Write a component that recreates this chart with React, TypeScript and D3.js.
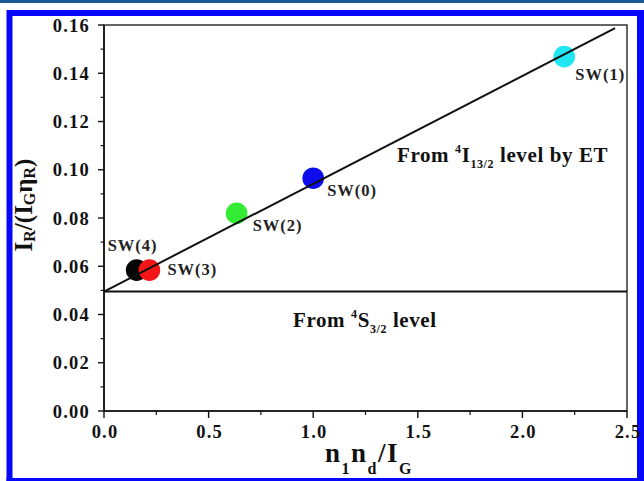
import React from "react";
import * as d3 from "d3";

const samples = ["SW(0)", "SW(1)", "SW(2)", "SW(3)", "SW(4)"];
const xValues = [1.0, 2.2, 0.634, 0.217, 0.156];
const yValues = [0.0965, 0.1469, 0.0819, 0.0584, 0.0584];
const pointColors = ["#0c0cec", "#22e6f2", "#33ec33", "#f21616", "#050505"];
// label offsets in px relative to point
const labelDx = [14, 11, 16, 18, -29];
const labelDy = [18, 23, 18, 5, -19];
const drawOrder = [4, 3, 2, 0, 1];

const fitIntercept = 0.0495;
const fitSlope = 0.0447;
const fitXEnd = 2.443;
const baseLevel = 0.0495;

const xTicks = [0, 0.5, 1.0, 1.5, 2.0, 2.5];
const xMinor = [0.25, 0.75, 1.25, 1.75, 2.25];
const yTicks = [0, 0.02, 0.04, 0.06, 0.08, 0.1, 0.12, 0.14, 0.16];
const yMinor = [0.01, 0.03, 0.05, 0.07, 0.09, 0.11, 0.13, 0.15];

const W = 644;
const H = 481;
const FONT = "'Liberation Serif', 'Times New Roman', serif";

export default function App() {
  const x = d3.scaleLinear().domain([0, 2.5]).range([104, 627]);
  const y = d3.scaleLinear().domain([0, 0.16]).range([411, 25]);
  const line = d3.line<[number, number]>().x((d) => x(d[0])).y((d) => y(d[1]));

  return (
    <svg
      width={W}
      height={H}
      style={{ position: "absolute", left: 0, top: 0 }}
      fontFamily={FONT}
      fontWeight="bold"
    >
      <rect x={0} y={0} width={W} height={H} fill="#fff" />
      <rect x={0} y={0} width={W} height={3} fill="#1c5b96" />
      <rect x={6.5} y={10} width={W - 6.5} height={H - 10} fill="#0606fa" />
      <rect x={12.5} y={16} width={637 - 12.5} height={478 - 16} fill="#fff" />

      {/* plot frame */}
      <rect
        x={x(0)}
        y={y(0.16)}
        width={x(2.5) - x(0)}
        height={y(0) - y(0.16)}
        fill="none"
        stroke="#333"
        strokeWidth={1.5}
      />
      <line x1={x(0)} x2={x(0)} y1={y(0)} y2={y(0.16)} stroke="#111" strokeWidth={1.6} />
      <line x1={x(0)} x2={x(2.5)} y1={y(0)} y2={y(0)} stroke="#111" strokeWidth={1.6} />

      {/* y ticks */}
      {yTicks.map((t) => (
        <g key={"yt" + t}>
          <line x1={x(0) - 6} x2={x(0)} y1={y(t)} y2={y(t)} stroke="#111" strokeWidth={1.4} />
          <text
            x={90}
            y={y(t)}
            dy="0.36em"
            textAnchor="end"
            fontSize={18.5}
            letterSpacing={1.2}
            fill="#111"
          >
            {t.toFixed(2)}
          </text>
        </g>
      ))}
      {yMinor.map((t) => (
        <line key={"ym" + t} x1={x(0) - 3.5} x2={x(0)} y1={y(t)} y2={y(t)} stroke="#111" strokeWidth={1.2} />
      ))}

      {/* x ticks */}
      {xTicks.map((t) => (
        <g key={"xt" + t}>
          <line x1={x(t)} x2={x(t)} y1={y(0)} y2={y(0) + 7} stroke="#111" strokeWidth={1.4} />
          <text
            x={x(t) + 1}
            y={438}
            textAnchor="middle"
            fontSize={18.5}
            letterSpacing={1.2}
            fill="#111"
          >
            {t.toFixed(1)}
          </text>
        </g>
      ))}
      {xMinor.map((t) => (
        <line key={"xm" + t} x1={x(t)} x2={x(t)} y1={y(0)} y2={y(0) + 4} stroke="#111" strokeWidth={1.2} />
      ))}

      {/* points */}
      {drawOrder.map((i) => (
        <circle key={"p" + i} cx={x(xValues[i])} cy={y(yValues[i])} r={10.8} fill={pointColors[i]} />
      ))}

      {/* lines */}
      <path
        d={line([[0, baseLevel], [2.5, baseLevel]]) || ""}
        fill="none"
        stroke="#111"
        strokeWidth={2}
      />
      <path
        d={line([[0, fitIntercept], [fitXEnd, fitIntercept + fitSlope * fitXEnd]]) || ""}
        fill="none"
        stroke="#111"
        strokeWidth={2}
      />

      {/* point labels */}
      {samples.map((s, i) => (
        <text
          key={"l" + i}
          x={x(xValues[i]) + labelDx[i]}
          y={y(yValues[i]) + labelDy[i]}
          fontSize={16.5}
          letterSpacing={1}
          fill="#222"
        >
          {s}
        </text>
      ))}

      {/* annotations */}
      <text x={397} y={162} fontSize={21} letterSpacing={0.6} fill="#111">
        From{" "}
        <tspan fontSize={12} dy={-9}>4</tspan>
        <tspan dy={9}>I</tspan>
        <tspan fontSize={12} dy={6}>13/2</tspan>
        <tspan dy={-6}> level by ET</tspan>
      </text>
      <text x={293} y={327} fontSize={21} letterSpacing={0.6} fill="#111">
        From{" "}
        <tspan fontSize={12} dy={-9}>4</tspan>
        <tspan dy={9}>S</tspan>
        <tspan fontSize={12} dy={6}>3/2</tspan>
        <tspan dy={-6}> level</tspan>
      </text>

      {/* axis titles */}
      <text
        transform="translate(32,205) rotate(-90)"
        textAnchor="middle"
        fontSize={25}
        fill="#111"
      >
        I<tspan fontSize={16} dy={3}>R</tspan>
        <tspan dy={-3}>/(I</tspan>
        <tspan fontSize={16} dy={3}>G</tspan>
        <tspan dy={-3}>η</tspan>
        <tspan fontSize={16} dy={3}>R</tspan>
        <tspan dy={-3}>)</tspan>
      </text>
      <text x={325} y={462} fontSize={27} letterSpacing={1.5} fill="#111">
        n<tspan fontSize={16} dy={12}>1</tspan>
        <tspan dy={-12}>n</tspan>
        <tspan fontSize={16} dy={12}>d</tspan>
        <tspan dy={-12}>/I</tspan>
        <tspan fontSize={16} dy={12}>G</tspan>
      </text>

      {/* bottom blue edge over subscripts */}
      <rect x={6.5} y={478} width={W - 6.5} height={3} fill="#0606fa" />
    </svg>
  );
}
